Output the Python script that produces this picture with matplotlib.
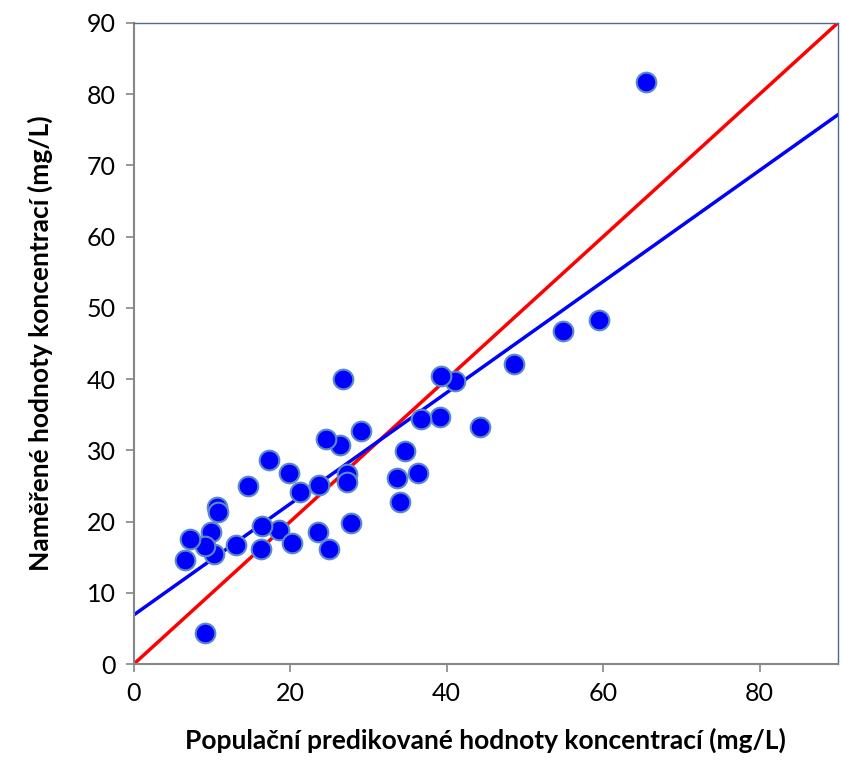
import matplotlib
matplotlib.use("Agg")
import matplotlib.pyplot as plt
import numpy as np

plt.rcParams['font.family'] = ['Lato', 'DejaVu Sans']

# predicted (x) vs observed (y) concentrations, mg/L
pred = [65.5, 59.5, 54.9, 48.6, 41.0, 39.3, 44.2, 39.1, 36.7, 34.7,
        36.3, 33.6, 34.0, 29.1, 26.8, 26.4, 24.6, 27.2, 27.3, 27.7,
        23.7, 24.9, 23.6, 21.2, 19.8, 17.3, 14.6, 18.6, 20.2, 16.4,
        16.2, 13.0, 10.6, 10.8, 10.3, 9.8, 9.1, 7.2, 6.6, 9.1]
obs = [81.7, 48.3, 46.8, 42.1, 39.7, 40.4, 33.3, 34.7, 34.4, 29.9,
       26.8, 26.1, 22.7, 32.7, 40.0, 30.7, 31.6, 26.7, 25.5, 19.8,
       25.1, 16.2, 18.6, 24.1, 26.8, 28.7, 25.0, 18.8, 17.0, 19.4,
       16.2, 16.7, 22.1, 21.4, 15.4, 18.5, 16.6, 17.5, 14.6, 4.3]

# regression line and identity line
fit_intercept = 6.9
fit_slope = 0.78
line_x = [0, 90]

x_ticks = [0, 20, 40, 60, 80]
y_ticks = [0, 10, 20, 30, 40, 50, 60, 70, 80, 90]

fig = plt.figure(figsize=(8.42, 7.65), dpi=100)
ax = fig.add_axes([0.159, 0.132, 0.836, 0.838])

ax.plot(line_x, line_x, color='#ff0000', lw=2.5, zorder=2)
ax.plot(line_x, [fit_intercept + fit_slope * v for v in line_x], color='#0000ff', lw=2.5, zorder=2)
ax.scatter(pred, obs, s=200, c='#0000ff', edgecolors='#5b8bc7', linewidths=1.5, zorder=3)

ax.set_xlim(0, 90)
ax.set_ylim(0, 90)
ax.set_xticks(x_ticks)
ax.set_yticks(y_ticks)
ax.tick_params(direction='out', length=6, width=1.2, color='#868686', labelsize=18, pad=7)

for side in ['left', 'bottom']:
    ax.spines[side].set_color('#868686')
    ax.spines[side].set_linewidth(1.5)
for side in ['top', 'right']:
    ax.spines[side].set_color('#4f6a8f')
    ax.spines[side].set_linewidth(1.0)

ax.set_xlabel('Populační predikované hodnoty koncentrací (mg/L)', fontsize=19, fontweight='bold', labelpad=16)
ax.set_ylabel('Naměřené hodnoty koncentrací (mg/L)', fontsize=19, fontweight='bold', labelpad=24)

fig.savefig('out.png', dpi=100)
